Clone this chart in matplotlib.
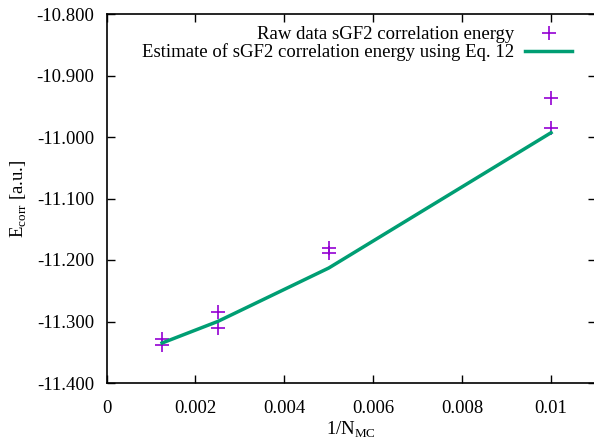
import matplotlib
matplotlib.use("Agg")
import matplotlib.pyplot as plt
from matplotlib.ticker import FuncFormatter

plt.rcParams['font.family'] = ['Liberation Serif', 'DejaVu Serif']
plt.rcParams['mathtext.fontset'] = 'custom'
plt.rcParams['mathtext.rm'] = 'Liberation Serif'

raw_x = [0.00125, 0.00125, 0.0025, 0.0025, 0.005, 0.005, 0.01, 0.01]
raw_y = [-11.328, -11.339, -11.285, -11.310, -11.181, -11.189, -10.937, -10.985]
fit_x = [0.00125, 0.0025, 0.005, 0.01]
fit_y = [-11.335, -11.300, -11.213, -10.993]
xticks = [0, 0.002, 0.004, 0.006, 0.008, 0.01]
xtick_labels = ["0", "0.002", "0.004", "0.006", "0.008", "0.01"]
yticks = [-10.8, -10.9, -11.0, -11.1, -11.2, -11.3, -11.4]

FS = 13.5
W, H = 594, 443
fig = plt.figure(figsize=(W/100, H/100), dpi=100)
left, right, top, bottom = 106.5, 595.5, 14, 383
ax = fig.add_axes([left/W, (H-bottom)/H, (right-left)/W, (bottom-top)/H])

ax.plot(raw_x, raw_y, linestyle='none', marker='+', color='#9400d3', markersize=10,
        markeredgewidth=1.2, label='Raw data sGF2 correlation energy')
ax.plot(fit_x, fit_y, color='#009e73', linewidth=2.5,
        label='Estimate of sGF2 correlation energy using Eq. 12')

ax.set_xlim(0, 0.011)
ax.set_ylim(-11.4, -10.8)
ax.set_xticks(xticks)
ax.set_xticklabels(xtick_labels)
ax.set_yticks(yticks)
ax.yaxis.set_major_formatter(FuncFormatter(lambda v, p: ("%.3f" % v).replace('\u2212', '-')))
ax.tick_params(axis='both', direction='in', top=True, right=True, length=6, width=1, labelsize=FS)
ax.tick_params(axis='x', pad=12)
ax.tick_params(axis='y', pad=9)
for s in ax.spines.values():
    s.set_linewidth(1.2)

ax.set_xlabel(r'1/N$_{\mathrm{MC}}$', fontsize=FS, labelpad=2)
ax.set_ylabel(r'E$_{\mathrm{corr}}$ [a.u.]', fontsize=FS, labelpad=5)

leg = ax.legend(loc='upper right', bbox_to_anchor=(0.977, 1.0), frameon=False, markerfirst=False,
                fontsize=FS, handlelength=2.5, borderpad=0.15, labelspacing=0.0, handletextpad=0.6)

fig.savefig('out.png', dpi=100)
